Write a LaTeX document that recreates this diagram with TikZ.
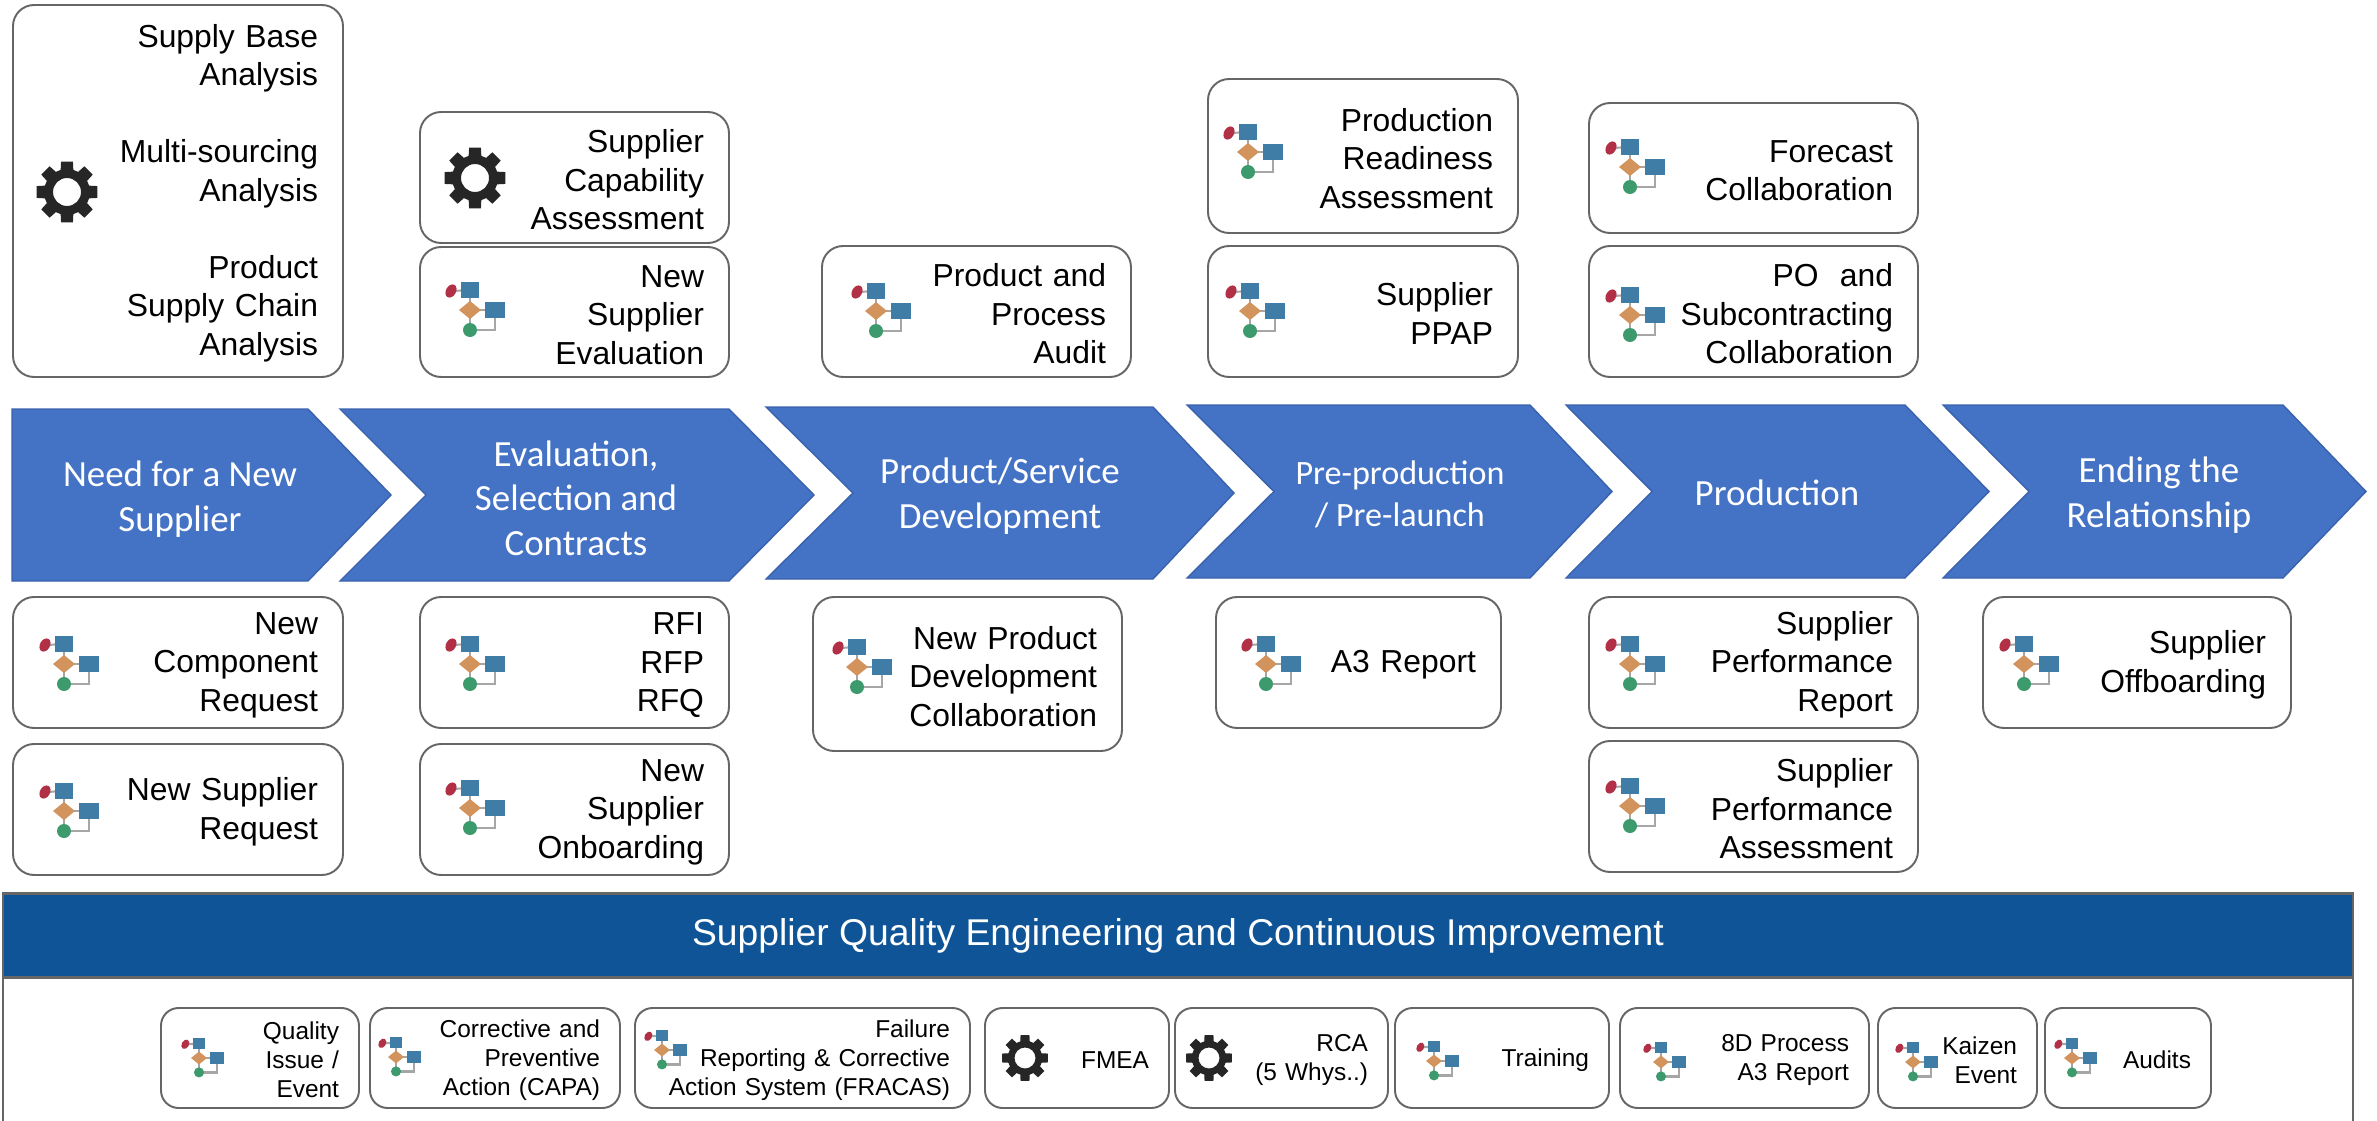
\documentclass[tikz,border=0pt]{standalone}
\usepackage{fontspec}
\setmainfont{Liberation Sans}
\newfontfamily\chevfont{Carlito}
\usepackage{xcolor}
\definecolor{mChevron}{HTML}{4472C4}
\definecolor{mChevronEdge}{HTML}{3A62AC}
\definecolor{mBanner}{HTML}{0E5496}
\definecolor{mEdge}{HTML}{666666}
\definecolor{mGear}{HTML}{262626}
\definecolor{mIconBlue}{HTML}{3F7CA6}
\definecolor{mIconOrange}{HTML}{D2935C}
\definecolor{mIconGreen}{HTML}{3C9A6C}
\definecolor{mIconRed}{HTML}{B23045}
\def\px{0.01cm}

\begin{document}
\begin{tikzpicture}[x=\px,y=-\px]
  \tikzstyle{card}=[draw=mEdge,line width=0.55pt,fill=white,rounded corners=6pt,align=right,inner ysep=0pt,outer sep=0pt,text=black]
  \tikzstyle{big card}=[card,font=\fontsize{9.05}{10.95}\selectfont,execute at begin node={\rule{0pt}{7.8pt}}]
  \tikzstyle{small card}=[card,rounded corners=5pt,font=\fontsize{6.95}{8.3}\selectfont,execute at begin node={\rule{0pt}{6.2pt}}]
  \tikzstyle{chevron}=[fill=mChevron,draw=mChevronEdge,line width=0.4pt]
  \tikzstyle{chevron text}=[text=white,align=center,font=\chevfont\fontsize{10.5}{12.7}\selectfont]
  \tikzset{
    flowicon/.pic={
      \draw[gray!70,line width=0.8pt] (0,-20) -- (0,20) -- (25,20) -- (25,0) -- (0,0);
      \draw[gray!70,line width=0.6pt] (-18,-19) -- (0,-20);
      \fill[mIconRed,rotate around={-30:(-19,-19)}] (-19,-19) ellipse (5 and 7);
      \fill[mIconBlue] (-9,-28) rectangle (9,-12);
      \fill[mIconOrange] (-11,0) -- (0,-9) -- (11,0) -- (0,9) -- cycle;
      \fill[mIconBlue] (15,-8) rectangle (35,8);
      \fill[mIconGreen] (0,20) circle (7);
    },
    gearicon/.pic={
      \fill[mGear,even odd rule] (-11:31)
        \foreach \a in {0,45,...,315} {
          -- (\a-11:31) -- (\a+11:31) -- (\a+16:23) -- (\a+29:23)
        } -- cycle (0,0) circle (14);
    }
  }
  \useasboundingbox (0,0) rectangle (2377,1121);

  % Draw the chevrons of the process
  \foreach \name/\xa/\xn/\xs/\xt/\ya/\yb in {
      1/340/426/729/814/409/581,
      2/766/853/1153/1234/407/579,
      3/1187/1274/1530/1612/405/578,
      4/1566/1652/1905/1989/405/578,
      5/1943/2029/2283/2366/405/578}
    \draw[chevron] (\xa,\ya) coordinate (C-\name) -- (\xs,\ya) -- (\xt,{(\ya+\yb)/2}) -- (\xs,\yb)
      -- (\xa,\yb) -- (\xn,{(\ya+\yb)/2}) -- cycle;
  \draw[chevron] (12,409) coordinate (C-0) -- (308,409) -- (391,495) -- (308,581) -- (12,581) -- cycle;

  \node[chevron text] (need) at (180,499) {Need for a New\\Supplier};
  \node[chevron text] (select) at (576,498) {Evaluation,\\Selection and\\Contracts};
  \node[chevron text] (develop) at (1000,496) {Product/Service\\Development};
  \node[chevron text,font=\chevfont\fontsize{9.7}{12}\selectfont] (prelaunch) at (1400,494) {Pre-production\\/ Pre-launch};
  \node[chevron text] (production) at (1777,493) {Production};
  \node[chevron text] (ending) at (2159,495) {Ending the\\Relationship};

  % Draw the large cards above and below the chevrons
  \foreach \name/\xa/\ya/\xb/\yb/\txt in {
      base/13/5/343/377/{Supply Base\\Analysis\\[10.95pt]Multi-sourcing\\Analysis\\[10.95pt]Product\\Supply Chain\\Analysis},
      capability/420/112/729/243/{Supplier\\Capability\\Assessment},
      evaluation/420/247/729/377/{New\\Supplier\\Evaluation},
      audit/822/246/1131/377/{Product and\\Process\\Audit},
      readiness/1208/79/1518/233/{Production\\Readiness\\Assessment},
      ppap/1208/246/1518/377/{Supplier\\PPAP},
      forecast/1589/103/1918/233/{Forecast\\Collaboration},
      po/1589/246/1918/377/{PO\ \ and\\Subcontracting\\Collaboration},
      component/13/597/343/728/{New\\Component\\Request},
      request/13/744/343/875/{New Supplier\\Request},
      rfi/420/597/729/728/{RFI\\RFP\\RFQ},
      onboarding/420/744/729/875/{New\\Supplier\\Onboarding},
      npd/813/597/1122/751/{New Product\\Development\\Collaboration},
      athree/1216/597/1501/728/{A3 Report},
      report/1589/597/1918/728/{Supplier\\Performance\\Report},
      assessment/1589/741/1918/872/{Supplier\\Performance\\Assessment},
      offboarding/1983/597/2291/728/{Supplier\\Offboarding}}
    \node[big card,minimum width=(\xb-\xa)*\px,minimum height=(\yb-\ya)*\px,
      text width=(\xb-\xa-50)*\px,inner xsep=25*\px]
      (\name) at ({(\xa+\xb)/2},{(\ya+\yb)/2}) {\txt};

  % Draw the banner and its frame
  \draw[mEdge,line width=0.55pt] (3,976) -- (3,1121) (2353,976) -- (2353,1121);
  \node[draw=mEdge,line width=0.7pt,fill=mBanner,text=white,outer sep=0pt,minimum width=2350*\px,minimum height=84*\px,
    font=\fontsize{10.6}{12.6}\selectfont] (banner) at (1178,935.5) {Supplier Quality Engineering and Continuous Improvement};

  % Draw the small cards inside the frame
  \foreach \name/\xa/\xb/\txt in {
      quality/161/359/{Quality\\Issue /\\Event},
      capa/370/620/{Corrective and\\Preventive\\Action (CAPA)},
      fracas/635/970/{Failure\\Reporting \& Corrective\\Action System (FRACAS)},
      fmea/985/1169/{FMEA},
      rca/1175/1388/{RCA\\(5 Whys..)},
      training/1395/1609/{Training},
      eightd/1620/1869/{8D Process\\A3 Report},
      kaizen/1878/2037/{Kaizen\\Event},
      audits/2045/2211/{Audits}}
    \node[small card,minimum width=(\xb-\xa)*\px,minimum height=100*\px,
      text width=(\xb-\xa-40)*\px,inner xsep=20*\px]
      (\name) at ({(\xa+\xb)/2},1058) {\txt};

  % Icons
  \foreach \x/\y in {470/310,876/311,1248/152,1250/311,1630/167,1630/315,64/664,64/811,
      470/664,470/808,857/667,1266/664,1630/664,1630/806,2024/664}
    \pic at (\x,\y) {flowicon};
  \foreach \x/\y in {199/1058,396/1057,662/1050,1434/1061,1661/1062,1913/1062,2072/1058}
    \pic[scale=0.72] at (\x,\y) {flowicon};
  \pic at (67,192) {gearicon};
  \pic at (475,178) {gearicon};
  \pic[scale=0.75] at (1025,1058) {gearicon};
  \pic[scale=0.75] at (1209,1058) {gearicon};
\end{tikzpicture}
\end{document}
